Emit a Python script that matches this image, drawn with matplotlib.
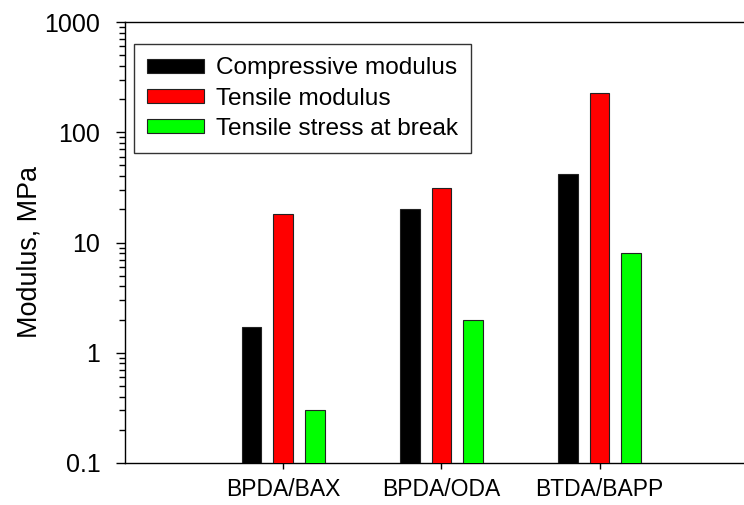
import matplotlib
matplotlib.use("Agg")
import matplotlib.pyplot as plt
import numpy as np

plt.rcParams['font.family'] = ['Liberation Sans', 'DejaVu Sans']

categories = ["BPDA/BAX", "BPDA/ODA", "BTDA/BAPP"]
compressive_modulus = [1.7, 20.0, 42.0]
tensile_modulus = [18.0, 31.0, 225.0]
tensile_stress_break = [0.3, 2.0, 8.0]

series = [
    ("Compressive modulus", compressive_modulus, "#000000"),
    ("Tensile modulus", tensile_modulus, "#ff0000"),
    ("Tensile stress at break", tensile_stress_break, "#00ff00"),
]

fig = plt.figure(figsize=(7.44, 5.05), dpi=100)
W, H = 744, 505
# axes extends past the right edge of the canvas
ax = fig.add_axes([125 / W, 1 - 463 / H, (916 - 125) / W, (463 - 22) / H])

x = np.arange(len(categories))
step = 0.2
width = 0.124
for i, (label, vals, color) in enumerate(series):
    ax.bar(x + (i - 1) * step, vals, width=width, color=color,
           edgecolor="#222222", linewidth=0.8, label=label, zorder=3)

ax.set_yscale("log")
ax.set_ylim(0.1, 1000)
ax.set_xlim(-1, 4)
ax.set_yticks([0.1, 1, 10, 100, 1000])
ax.set_yticklabels(["0.1", "1", "10", "100", "1000"])
ax.set_xticks(x)
ax.set_xticklabels(categories)

ax.spines['right'].set_visible(False)
for s in ax.spines.values():
    s.set_linewidth(1.0)

ax.tick_params(axis='y', which='major', direction='out', length=6.7, width=1.0,
               labelsize=18, pad=11)
ax.tick_params(axis='y', which='minor', direction='out', length=4.1, width=1.0)
ax.tick_params(axis='x', which='major', direction='out', length=4.5, width=1.0,
               labelsize=16.5, pad=6)
ax.tick_params(axis='x', which='minor', bottom=False)

ax.set_ylabel("Modulus, MPa", fontsize=19.4)
ax.yaxis.set_label_coords(30 / W, 0.5, transform=fig.transFigure)
ax.yaxis.label.set_va("center")

leg = ax.legend(loc="upper left", bbox_to_anchor=(134 / W, 1 - 44 / H),
                bbox_transform=fig.transFigure, borderaxespad=0,
                fontsize=17.6, frameon=True, fancybox=False, shadow=False,
                handlelength=2.3, handleheight=0.49, handletextpad=0.5,
                labelspacing=0.33, borderpad=0.55)
leg.get_frame().set_edgecolor("black")
leg.get_frame().set_linewidth(1.0)

fig.savefig("out.png", dpi=100)
